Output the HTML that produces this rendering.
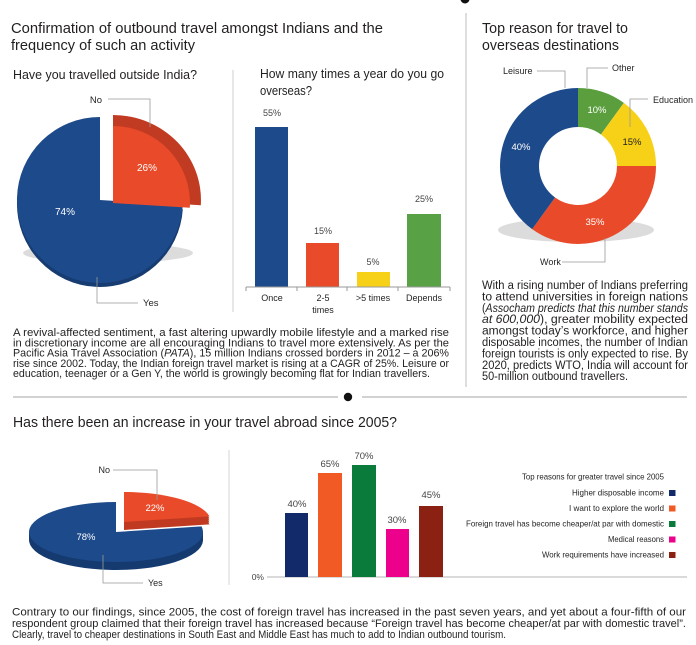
<!DOCTYPE html>
<html>
<head>
<meta charset="utf-8">
<style>
html,body{margin:0;padding:0;background:#fff;}
svg{display:block;}
text{font-family:"Liberation Sans",sans-serif;fill:#231f20;}
</style>
</head>
<body>
<svg width="696" height="645" viewBox="0 0 696 645" xmlns="http://www.w3.org/2000/svg">
<rect width="696" height="645" fill="#fff"/>

<!-- top dot -->
<circle cx="465" cy="-1" r="4.5" fill="#111"/>

<!-- dividers -->
<line x1="466" y1="13" x2="466" y2="387" stroke="#c8c8c8" stroke-width="1.2"/>
<line x1="233" y1="70" x2="233" y2="312" stroke="#cfcfcf" stroke-width="1"/>
<line x1="13" y1="397" x2="338" y2="397" stroke="#c4c4c4" stroke-width="1.5"/>
<line x1="362" y1="397" x2="687" y2="397" stroke="#c4c4c4" stroke-width="1.5"/>
<circle cx="348" cy="397" r="4.2" fill="#111"/>
<line x1="229" y1="450" x2="229" y2="585" stroke="#d4d4d4" stroke-width="1"/>

<!-- Titles -->
<text x="11" y="33" font-size="14.5" textLength="372" lengthAdjust="spacingAndGlyphs">Confirmation of outbound travel amongst Indians and the</text>
<text x="11" y="50" font-size="14.5" textLength="184" lengthAdjust="spacingAndGlyphs">frequency of such an activity</text>
<text x="13" y="79" font-size="12.5" textLength="184" lengthAdjust="spacingAndGlyphs">Have you travelled outside India?</text>
<text x="260" y="78" font-size="12.5" textLength="184" lengthAdjust="spacingAndGlyphs">How many times a year do you go</text>
<text x="260" y="95" font-size="12.5" textLength="52" lengthAdjust="spacingAndGlyphs">overseas?</text>
<text x="482" y="33" font-size="14.5" textLength="146" lengthAdjust="spacingAndGlyphs">Top reason for travel to</text>
<text x="482" y="50" font-size="14.5" textLength="137" lengthAdjust="spacingAndGlyphs">overseas destinations</text>
<text x="13" y="427" font-size="14.5" textLength="384" lengthAdjust="spacingAndGlyphs">Has there been an increase in your travel abroad since 2005?</text>

<!-- Top pie -->
<ellipse cx="108" cy="253" rx="85" ry="10" fill="#dcdcdc"/>
<path d="M100,204 L182.8,209.2 A83,83 0 1 1 100,121 Z" fill="#173c72"/>
<path d="M100,200 L182.8,205.2 A83,83 0 1 1 100,117 Z" fill="#1d4a8a"/>
<path d="M113,200 L113,115 A88,85 0 0 1 200.8,205.3 Z" fill="#c13b22"/>
<path d="M113,203 L113,126 A77,77 0 0 1 189.8,207.8 Z" fill="#e94a29"/>
<text x="147" y="171" font-size="10" style="fill:#fff" text-anchor="middle">26%</text>
<text x="65" y="215" font-size="10" style="fill:#fff" text-anchor="middle">74%</text>
<polyline points="108,99 150,99 150,127" fill="none" stroke="#999" stroke-width="0.8"/>
<text x="102" y="103" font-size="9.5" text-anchor="end">No</text>
<polyline points="97,277 97,303 138,303" fill="none" stroke="#999" stroke-width="0.8"/>
<text x="143" y="306" font-size="9.5">Yes</text>

<!-- Bar chart 1 -->
<rect x="255" y="127" width="33" height="160" fill="#1d4a8a"/>
<rect x="306" y="243" width="33" height="44" fill="#e94a29"/>
<rect x="357" y="272" width="33" height="15" fill="#f7d117"/>
<rect x="407" y="214" width="34" height="73" fill="#58a144"/>
<line x1="246" y1="287" x2="450" y2="287" stroke="#999" stroke-width="1"/>
<g stroke="#999" stroke-width="1">
<line x1="246" y1="287" x2="246" y2="291"/>
<line x1="297" y1="287" x2="297" y2="291"/>
<line x1="347" y1="287" x2="347" y2="291"/>
<line x1="398" y1="287" x2="398" y2="291"/>
<line x1="450" y1="287" x2="450" y2="291"/>
</g>
<g font-size="9" text-anchor="middle">
<text x="272" y="116" style="fill:#444">55%</text>
<text x="323" y="234" style="fill:#444">15%</text>
<text x="373" y="265" style="fill:#444">5%</text>
<text x="424" y="202" style="fill:#444">25%</text>
<text x="272" y="301">Once</text>
<text x="323" y="301">2-5</text>
<text x="323" y="313">times</text>
<text x="373" y="301">&gt;5 times</text>
<text x="424" y="301">Depends</text>
</g>

<!-- Donut -->
<ellipse cx="576" cy="230" rx="78" ry="12" fill="#dcdcdc"/>
<path d="M578,88 A78,78 0 0 1 623.85,102.9 L600.92,134.45 A39,39 0 0 0 578,127 Z" fill="#5a9e3e"/>
<path d="M623.85,102.9 A78,78 0 0 1 656,166 L617,166 A39,39 0 0 0 600.92,134.45 Z" fill="#f7d117"/>
<path d="M656,166 A78,78 0 0 1 532.15,229.1 L555.08,197.55 A39,39 0 0 0 617,166 Z" fill="#e94a29"/>
<path d="M532.15,229.1 A78,78 0 0 1 578,88 L578,127 A39,39 0 0 0 555.08,197.55 Z" fill="#1d4a8a"/>
<g font-size="9.5" text-anchor="middle">
<text x="597" y="113" style="fill:#fff">10%</text>
<text x="632" y="145" style="fill:#222">15%</text>
<text x="521" y="150" style="fill:#fff">40%</text>
<text x="595" y="225" style="fill:#fff">35%</text>
</g>
<g fill="none" stroke="#999" stroke-width="0.8">
<polyline points="537,71 565,71 565,88"/>
<polyline points="608,68 587,68 587,88"/>
<polyline points="648,99 630,99 630,127"/>
<polyline points="562,262 605,262 605,238"/>
</g>
<g font-size="9">
<text x="503" y="74">Leisure</text>
<text x="612" y="71">Other</text>
<text x="653" y="103">Education</text>
<text x="540" y="265">Work</text>
</g>

<!-- Paragraph 1 -->
<g font-size="11">
<text x="13" y="336" textLength="436" lengthAdjust="spacingAndGlyphs">A revival-affected sentiment, a fast altering upwardly mobile lifestyle and a marked rise</text>
<text x="13" y="346.3" textLength="436" lengthAdjust="spacingAndGlyphs">in discretionary income are all encouraging Indians to travel more extensively. As per the</text>
<text x="13" y="356.6" textLength="436" lengthAdjust="spacingAndGlyphs">Pacific Asia Travel Association (<tspan font-style="italic">PATA</tspan>), 15 million Indians crossed borders in 2012 – a  206%</text>
<text x="13" y="366.9" textLength="436" lengthAdjust="spacingAndGlyphs">rise since 2002. Today, the Indian foreign travel market is rising at a CAGR of 25%. Leisure or</text>
<text x="13" y="377.2" textLength="417" lengthAdjust="spacingAndGlyphs">education, teenager or a Gen Y, the world is growingly becoming flat for Indian travellers.</text>
</g>

<!-- Paragraph 2 -->
<g font-size="11.5">
<text x="482" y="289" textLength="206" lengthAdjust="spacingAndGlyphs">With a rising number of Indians preferring</text>
<text x="482" y="300.4" textLength="206" lengthAdjust="spacingAndGlyphs">to attend universities in foreign nations</text>
<text x="482" y="311.8" textLength="206" lengthAdjust="spacingAndGlyphs">(<tspan font-style="italic">Assocham predicts that this number stands</tspan></text>
<text x="482" y="323.2" textLength="206" lengthAdjust="spacingAndGlyphs"><tspan font-style="italic">at 600,000</tspan>), greater mobility expected</text>
<text x="482" y="334.6" textLength="206" lengthAdjust="spacingAndGlyphs">amongst today’s workforce, and higher</text>
<text x="482" y="346" textLength="206" lengthAdjust="spacingAndGlyphs">disposable incomes, the number of Indian</text>
<text x="482" y="357.4" textLength="206" lengthAdjust="spacingAndGlyphs">foreign tourists is only expected to rise. By</text>
<text x="482" y="368.8" textLength="206" lengthAdjust="spacingAndGlyphs">2020, predicts WTO, India will account for</text>
<text x="482" y="380.2" textLength="146" lengthAdjust="spacingAndGlyphs">50-million outbound travellers.</text>
</g>

<!-- Bottom pie -->
<g fill="#153a70">
<path d="M116,534 L201.5,528.4 A87,30 0 1 1 116,504 Z"/>
<path d="M116,536 L201.5,530.4 A87,30 0 1 1 116,506 Z"/>
<path d="M116,538 L201.5,532.4 A87,30 0 1 1 116,508 Z"/>
<path d="M116,540 L201.5,534.4 A87,30 0 1 1 116,510 Z"/>
</g>
<path d="M116,532 L201.5,526.4 A87,30 0 1 1 116,502 Z" fill="#1d4a8a"/>
<g fill="#c03a22">
<path d="M124,524 L124,494 A87,30 0 0 1 209.5,518.4 Z"/>
<path d="M124,526 L124,496 A87,30 0 0 1 209.5,520.4 Z"/>
<path d="M124,528 L124,498 A87,30 0 0 1 209.5,522.4 Z"/>
<path d="M124,530 L124,500 A87,30 0 0 1 209.5,524.4 Z"/>
</g>
<path d="M124,522 L124,492 A87,30 0 0 1 209.5,516.4 Z" fill="#e94a29"/>
<text x="155" y="511" font-size="9.5" style="fill:#fff" text-anchor="middle">22%</text>
<text x="86" y="540" font-size="9.5" style="fill:#fff" text-anchor="middle">78%</text>
<polyline points="113,470 157,470 157,500" fill="none" stroke="#999" stroke-width="0.8"/>
<text x="110" y="473" font-size="9" text-anchor="end">No</text>
<polyline points="103,555 103,583 143,583" fill="none" stroke="#999" stroke-width="0.8"/>
<text x="148" y="586" font-size="9">Yes</text>

<!-- Bar chart 2 -->
<line x1="267" y1="577" x2="687" y2="577" stroke="#c4c4c4" stroke-width="1.3"/>
<text x="264" y="580" font-size="8.5" text-anchor="end" style="fill:#444">0%</text>
<rect x="285" y="513" width="23" height="64" fill="#12296a"/>
<rect x="318" y="473" width="24" height="104" fill="#f15a24"/>
<rect x="352" y="465" width="24" height="112" fill="#0a7b3b"/>
<rect x="386" y="529" width="23" height="48" fill="#ec008c"/>
<rect x="419" y="506" width="24" height="71" fill="#8b2112"/>
<g font-size="9.5" text-anchor="middle">
<text x="297" y="507" style="fill:#444">40%</text>
<text x="330" y="467" style="fill:#444">65%</text>
<text x="364" y="459" style="fill:#444">70%</text>
<text x="397" y="523" style="fill:#444">30%</text>
<text x="431" y="498" style="fill:#444">45%</text>
</g>

<!-- Legend -->
<g font-size="8.2" text-anchor="end">
<text x="664" y="479.5" textLength="142" lengthAdjust="spacingAndGlyphs">Top reasons for greater travel since 2005</text>
<text x="664" y="495.5" textLength="92" lengthAdjust="spacingAndGlyphs">Higher disposable income</text>
<text x="664" y="511" textLength="95" lengthAdjust="spacingAndGlyphs">I want to explore the world</text>
<text x="664" y="526.5" textLength="198" lengthAdjust="spacingAndGlyphs">Foreign travel has become cheaper/at par with domestic</text>
<text x="664" y="542" textLength="56" lengthAdjust="spacingAndGlyphs">Medical reasons</text>
<text x="664" y="557.5" textLength="122" lengthAdjust="spacingAndGlyphs">Work requirements have increased</text>
</g>
<rect x="669" y="490" width="6.5" height="6" fill="#12296a"/>
<rect x="669" y="505.5" width="6.5" height="6" fill="#f15a24"/>
<rect x="669" y="521" width="6.5" height="6" fill="#0a7b3b"/>
<rect x="669" y="536.5" width="6.5" height="6" fill="#ec008c"/>
<rect x="669" y="552" width="6.5" height="6" fill="#8b2112"/>

<!-- Bottom paragraph -->
<g font-size="11.3">
<text x="12" y="615.5" textLength="674" lengthAdjust="spacingAndGlyphs">Contrary to our findings, since 2005, the cost of foreign travel has increased in the past seven years, and yet about a four-fifth of our</text>
<text x="12" y="626.8" textLength="674" lengthAdjust="spacingAndGlyphs">respondent group claimed that their foreign travel has increased because “Foreign travel has become cheaper/at par with domestic travel”.</text>
<text x="12" y="638" textLength="494" lengthAdjust="spacingAndGlyphs">Clearly, travel to cheaper destinations in South East and Middle East has much to add to Indian outbound tourism.</text>
</g>
</svg>
</body>
</html>
